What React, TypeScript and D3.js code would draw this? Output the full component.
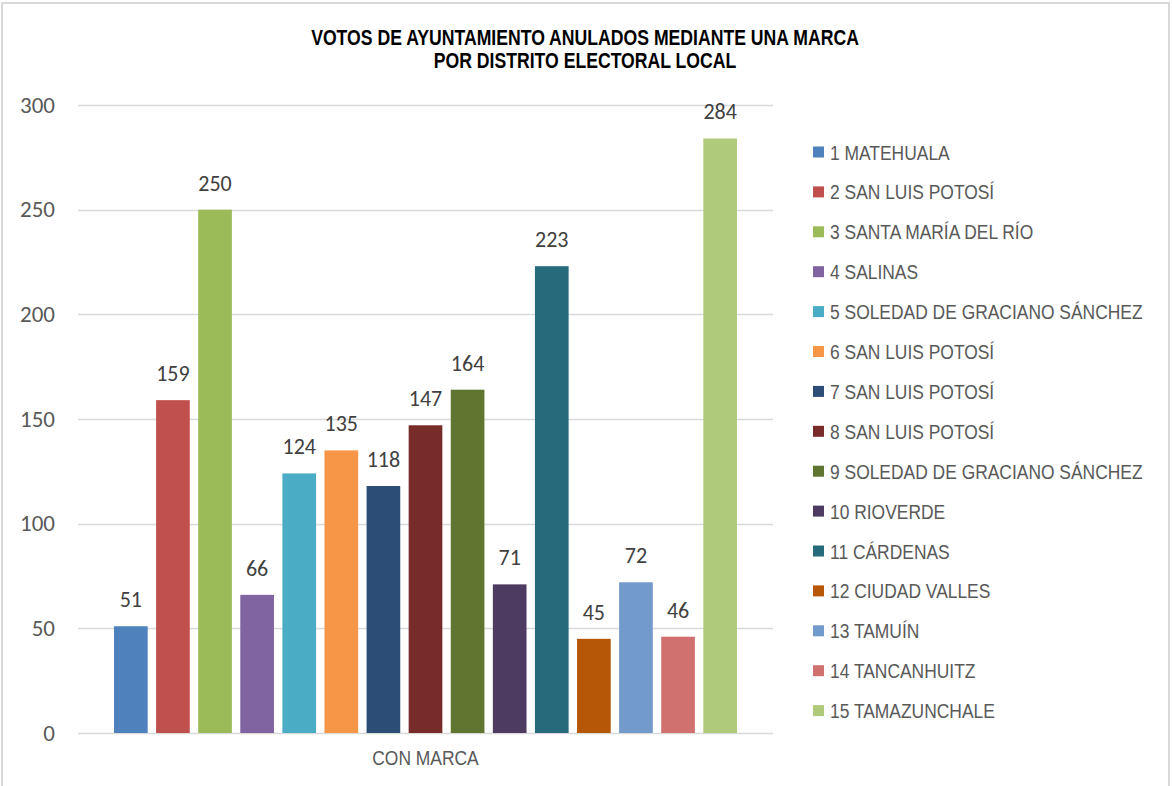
import React, { useRef, useEffect } from "react";
import * as d3 from "d3";

// distritos electorales locales
const districts = [
  "1 MATEHUALA",
  "2 SAN LUIS POTOSÍ",
  "3 SANTA MARÍA DEL RÍO",
  "4 SALINAS",
  "5 SOLEDAD DE GRACIANO SÁNCHEZ",
  "6 SAN LUIS POTOSÍ",
  "7 SAN LUIS POTOSÍ",
  "8 SAN LUIS POTOSÍ",
  "9 SOLEDAD DE GRACIANO SÁNCHEZ",
  "10 RIOVERDE",
  "11 CÁRDENAS",
  "12 CIUDAD VALLES",
  "13 TAMUÍN",
  "14 TANCANHUITZ",
  "15 TAMAZUNCHALE",
];
const votes = [51, 159, 250, 66, 124, 135, 118, 147, 164, 71, 223, 45, 72, 46, 284];
const colors = [
  "#4f81bd", "#c0504d", "#9bbb59", "#8064a2", "#4bacc6",
  "#f79646", "#2c4d75", "#772c2a", "#5f7530", "#4d3b62",
  "#276a7c", "#b65708", "#729aca", "#d0716f", "#b0ca7c",
];
const categories = ["CON MARCA"];
const yTicks = [0, 50, 100, 150, 200, 250, 300];
const titleLines = [
  "VOTOS DE AYUNTAMIENTO ANULADOS MEDIANTE UNA MARCA",
  "POR DISTRITO ELECTORAL LOCAL",
];

function App() {
  const svgRef = useRef(null);
  const width = 1172;
  const height = 786;
  const marginLeft = 78; // plot left
  const plotRight = 773;
  const marginTop = 105;
  const plotBottom = 733;
  // no Arial Narrow here, so squeeze Liberation Sans horizontally
  const narrow = "'Liberation Sans', Arial, sans-serif";
  const squeeze = 0.83;
  const sans = "Carlito, Calibri, 'Open Sans', sans-serif";

  useEffect(() => {
    const svg = d3.select(svgRef.current);
    svg.selectAll("*").remove();

    // chart frame
    svg.append("rect")
      .attr("x", 2)
      .attr("y", 3)
      .attr("width", 1167)
      .attr("height", 800)
      .attr("fill", "white")
      .attr("stroke", "#d9d9d9")
      .attr("stroke-width", 2);

    const yScale = d3.scaleLinear().domain([0, 300]).range([plotBottom, marginTop]);

    const xOuter = d3.scaleBand()
      .domain(categories)
      .range([marginLeft, plotRight])
      .paddingOuter(0.0578);

    const xInner = d3.scaleBand()
      .domain(districts)
      .range([0, xOuter.bandwidth()])
      .paddingInner(0.2);

    // gridlines
    svg.append("g")
      .selectAll("line")
      .data(yTicks)
      .join("line")
      .attr("x1", marginLeft)
      .attr("x2", plotRight)
      .attr("y1", d => Math.round(yScale(d)) + 0.5)
      .attr("y2", d => Math.round(yScale(d)) + 0.5)
      .attr("stroke", "#d9d9d9")
      .attr("stroke-width", 1.5);

    // y tick labels
    svg.append("g")
      .selectAll("text")
      .data(yTicks)
      .join("text")
      .attr("x", 55)
      .attr("y", d => yScale(d))
      .attr("dy", "0.33em")
      .attr("text-anchor", "end")
      .attr("font-family", sans)
      .attr("font-size", 23)
      .attr("fill", "#595959")
      .text(d => d);

    const g = svg.append("g")
      .attr("transform", `translate(${xOuter(categories[0])},0)`);

    g.selectAll("rect")
      .data(votes)
      .join("rect")
      .attr("x", (d, i) => xInner(districts[i]))
      .attr("y", d => yScale(d))
      .attr("width", xInner.bandwidth())
      .attr("height", d => yScale(0) - yScale(d))
      .attr("fill", (d, i) => colors[i]);

    // data labels
    g.selectAll("text")
      .data(votes)
      .join("text")
      .attr("x", (d, i) => xInner(districts[i]) + xInner.bandwidth() / 2)
      .attr("y", d => yScale(d) - 19)
      .attr("text-anchor", "middle")
      .attr("font-family", sans)
      .attr("font-size", 22)
      .attr("fill", "#404040")
      .text(d => d);

    // category label
    svg.append("text")
      .attr("transform", `translate(${xOuter(categories[0]) + xOuter.bandwidth() / 2},765) scale(${squeeze},1)`)
      .attr("text-anchor", "middle")
      .attr("font-family", narrow)
      .attr("font-size", 21)
      .attr("fill", "#595959")
      .text(categories[0]);

    // title
    svg.append("g")
      .selectAll("text")
      .data(titleLines)
      .join("text")
      .attr("transform", (d, i) => `translate(585,${45 + i * 23}) scale(0.82,1)`)
      .attr("text-anchor", "middle")
      .attr("font-family", narrow)
      .attr("font-weight", "bold")
      .attr("font-size", 21.5)
      .attr("fill", "black")
      .text(d => d);

    // legend
    const legend = svg.append("g")
      .selectAll("g")
      .data(districts)
      .join("g")
      .attr("transform", (d, i) => `translate(813,${152 + i * 39.9})`);

    legend.append("rect")
      .attr("x", 0)
      .attr("y", -5.5)
      .attr("width", 11)
      .attr("height", 11)
      .attr("fill", (d, i) => colors[i]);

    legend.append("text")
      .attr("transform", `translate(17,0) scale(${squeeze},1)`)
      .attr("dy", "0.36em")
      .attr("font-family", narrow)
      .attr("font-size", 21)
      .attr("fill", "#595959")
      .text(d => d);
  }, []);

  return (
    <svg
      ref={svgRef}
      width={width}
      height={height}
      style={{ position: "absolute", left: 0, top: 0 }}
    ></svg>
  );
}

export default App;
